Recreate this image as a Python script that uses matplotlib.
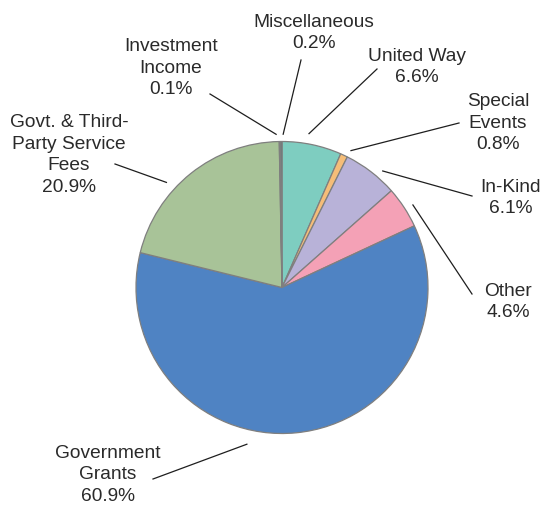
import numpy as np
import matplotlib
matplotlib.use('Agg')
import matplotlib.pyplot as plt

# data
categories = ['United Way', 'Special\nEvents', 'In-Kind', 'Other', 'Government\nGrants',
              'Govt. & Third-\nParty Service\nFees', 'Investment\nIncome', 'Miscellaneous']
shares = [6.6, 0.8, 6.1, 4.6, 60.9, 20.9, 0.1, 0.2]
colors = ['#7ecdc0', '#f5bd78', '#b8b2d8', '#f4a1b6', '#4f83c3', '#a8c398', '#64797c', '#5d7779']

# layout (pixels, origin top-left)
W, H = 545, 506
center_px = (282, 288.5)
radius_px = 146
text_px = [(417, 67), (498, 123), (511, 198), (508, 302), (108, 475), (69, 155), (171, 68), (314, 33)]
line_start_px = [(377, 70), (459, 124), (472, 197), (472, 295), (153, 480), (115, 165), (210, 95), (301, 61)]
anchor_dang = [1.9, -1.6, -3.3, -1.0, -18.2, 9.1, 1.3, -0.8]
anchor_rfac = [1.07, 1.05, 1.055, 1.06, 1.10, 1.07, 1.05, 1.05]

plt.rcParams['font.family'] = ['Liberation Sans', 'DejaVu Sans']

fig = plt.figure(figsize=(W / 100, H / 100), dpi=100)
ax = fig.add_axes([0, 0, 1, 1])

cx, cy = center_px[0], H - center_px[1]
wedges, _ = ax.pie(shares, colors=colors, startangle=90, counterclock=False,
                   center=(cx, cy), radius=radius_px, frame=True,
                   wedgeprops=dict(edgecolor='#7f7f7f', linewidth=0.9))
ax.set_xlim(0, W)
ax.set_ylim(0, H)
ax.set_aspect('auto')
ax.axis('off')

for i, w in enumerate(wedges):
    label = categories[i] + '\n' + f'{shares[i]:.1f}%'
    tx, ty = text_px[i]
    ax.text(tx, H - ty, label, ha='center', va='center', fontsize=13.8,
            color='#2a2a2a', linespacing=1.38)
    mid = np.deg2rad((w.theta1 + w.theta2) / 2 + anchor_dang[i])
    r = radius_px * anchor_rfac[i]
    ex, ey = cx + r * np.cos(mid), cy + r * np.sin(mid)
    sx, sy = line_start_px[i]
    ax.plot([sx, ex], [H - sy, ey], color='#1e1e1e', linewidth=0.9)

plt.savefig('out.png', dpi=100)
